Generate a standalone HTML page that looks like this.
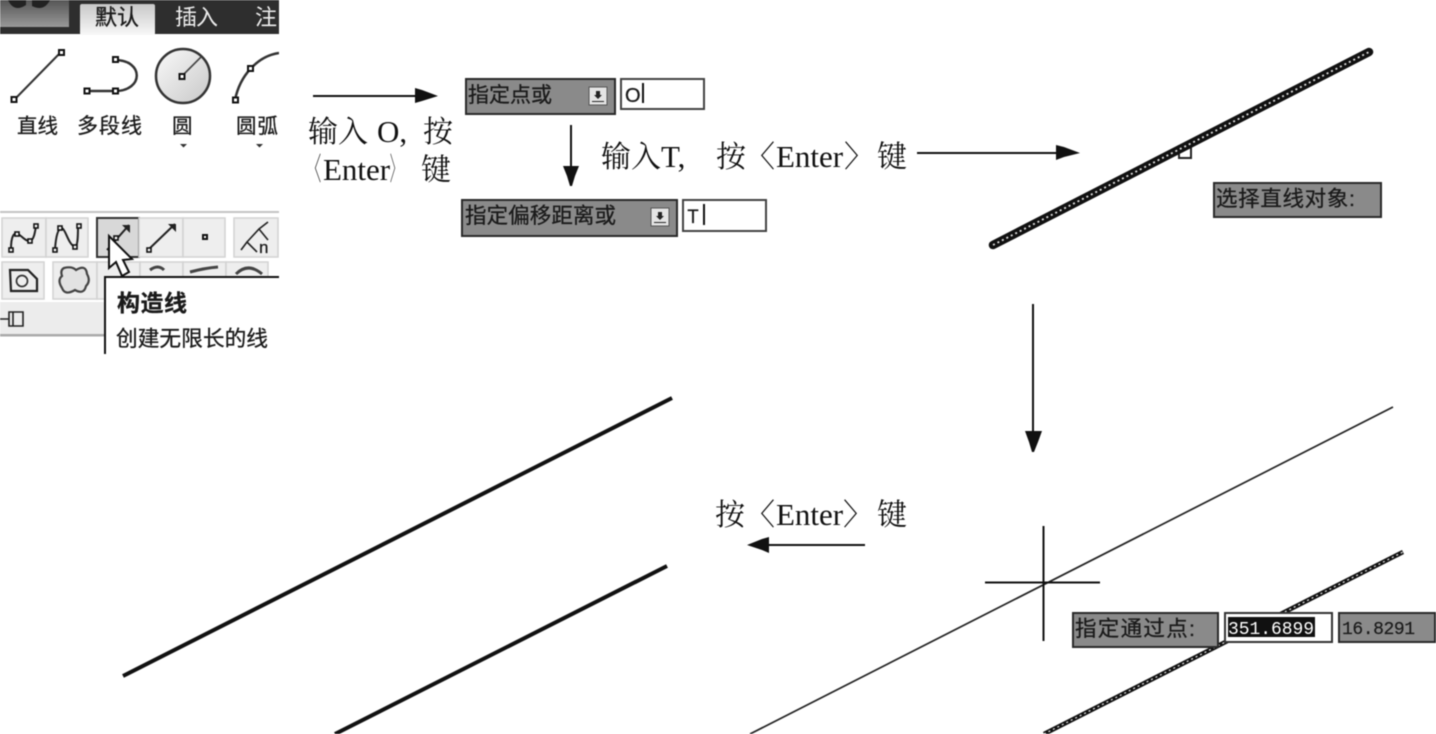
<!DOCTYPE html>
<html><head><meta charset="utf-8"><style>
html,body{margin:0;padding:0;background:#fff;width:1436px;height:734px;overflow:hidden}
svg{display:block;filter:blur(.4px)}
.s{font-family:"Liberation Serif","Noto Serif CJK SC",serif;font-size:30px;fill:#111}
.e{font-family:"Liberation Serif",serif;font-size:31px;fill:#111}
.g{font-family:"Liberation Sans","Noto Sans CJK SC",sans-serif;fill:#1a1a1a;stroke:#1a1a1a;stroke-width:.3}
.m{font-family:"Liberation Mono","Noto Sans CJK SC",monospace;fill:#1a1a1a;stroke:#1a1a1a;stroke-width:.2}
.n{fill:#fff;stroke:#111;stroke-width:2}
.b{fill:#eeeeee;stroke:#d2d2d2;stroke-width:1.5}
.box{fill:#8a8a8a;stroke:#2a2a2a;stroke-width:2}
.inp{fill:#fff;stroke:#444;stroke-width:2}
</style></head><body>
<svg width="1436" height="734" viewBox="0 0 1436 734" xmlns="http://www.w3.org/2000/svg">
<defs>
<linearGradient id="t" x1="0" y1="0" x2="0" y2="1"><stop offset="0" stop-color="#c8c8c8"/><stop offset="1" stop-color="#f8f8f8"/></linearGradient>
<linearGradient id="c" x1="0" y1="0" x2="1" y2="1"><stop offset="0" stop-color="#fafafa"/><stop offset="1" stop-color="#c8c8c8"/></linearGradient>
<linearGradient id="k" x1="0" y1="0" x2="0" y2="1"><stop offset="0" stop-color="#555"/><stop offset="1" stop-color="#999"/></linearGradient>
<clipPath id="clip"><rect x="0" y="0" width="279" height="360"/></clipPath>
</defs>

<!-- Ribbon -->
<g clip-path="url(#clip)">
<rect x="0" y="0" width="279" height="34" fill="#2e2e2e"/>
<rect x="0" y="0" width="69" height="27" fill="url(#k)"/>
<path d="M8 0 Q14 13 26 5 L26 0Z M32 0 L32 6 Q44 12 50 0Z" fill="#222"/>
<rect x="80" y="4" width="75" height="31" rx="2" fill="url(#t)"/>
<text x="95" y="25" class="g" font-size="22" textLength="44">默认</text>
<text x="175" y="25" class="g" font-size="22" style="fill:#eee;stroke:none" textLength="43">插入</text>
<text x="255" y="25" class="g" font-size="22" style="fill:#eee;stroke:none">注</text>

<path d="M14 100 L61 52" stroke="#333" stroke-width="2" fill="none"/>
<rect x="11.500" y="97" width="5" height="5" class="n"/><rect x="59" y="50" width="5" height="5" class="n"/>
<path d="M87 91 H115 C144 91 144 60 115 60" stroke="#333" stroke-width="2.500" fill="none"/>
<rect x="84.500" y="88.500" width="5" height="5" class="n"/><rect x="113" y="88.500" width="5" height="5" class="n"/><rect x="113" y="57" width="5" height="5" class="n"/>
<circle cx="183" cy="76" r="27" fill="url(#c)" stroke="#333" stroke-width="2.500"/>
<path d="M182 76 L201 57" stroke="#444" stroke-width="1.600"/>
<rect x="179.500" y="74" width="5" height="5" class="n"/>
<path d="M235 100 C240 75 258 56 279 53" stroke="#333" stroke-width="2.500" fill="none"/>
<rect x="233" y="97.500" width="5" height="5" class="n"/><rect x="248" y="66" width="5" height="5" class="n"/>
<text x="17" y="133" class="g" font-size="20.500" textLength="41">直线</text>
<text x="77" y="133" class="g" font-size="21" textLength="65">多段线</text>
<text x="172" y="133" class="g" font-size="20.500">圆</text>
<text x="236" y="133" class="g" font-size="20.500" textLength="42">圆弧</text>
<path d="M180 144h7l-3.500 3.500z M256 144h7l-3.500 3.500z" fill="#333"/>

<rect x="0" y="211" width="279" height="2" fill="#c4c4c4"/>
<rect x="2" y="218" width="44" height="39" class="b"/><rect x="46" y="218" width="42" height="39" class="b"/>
<rect x="97" y="218" width="42" height="39" fill="#d8d8d8" stroke="#333" stroke-width="2"/>
<rect x="139" y="218" width="44" height="39" class="b"/><rect x="183" y="218" width="42" height="39" class="b"/><rect x="234" y="218" width="44" height="39" class="b"/>
<path d="M11 249 C11 236 14 232 18 234 C22 236 26 242 30 241 C34 240 35 232 36 226" fill="none" stroke="#222" stroke-width="2"/>
<path d="M55 249 C56 236 58 228 62 228 C66 230 68 244 75 247 C78 246 78 234 78 226" fill="none" stroke="#222" stroke-width="2"/>
<path d="M107 250 L129 225" stroke="#222" stroke-width="2"/>
<path d="M149 249 L175 224" stroke="#222" stroke-width="2"/>
<path d="M168 224h8v8z" fill="#222"/><path d="M122 225h8v8z" fill="#222"/>
<rect x="203" y="235" width="4" height="4" class="n"/>
<path d="M241 250 L247 242 L257 252 M247 242 L259 229 L268 222 M259 229 L268 240" fill="none" stroke="#222" stroke-width="1.600"/>
<text x="259" y="253" class="g" font-size="17">n</text>
<g fill="#fff" stroke="#111" stroke-width="1.600"><rect x="9" y="248" width="4" height="4"/><rect x="15" y="232" width="4" height="4"/><rect x="28" y="239" width="4" height="4"/><rect x="34" y="224" width="4" height="4"/><rect x="53" y="248" width="4" height="4"/><rect x="58" y="226" width="4" height="4"/><rect x="73" y="245" width="4" height="4"/><rect x="77" y="224" width="4" height="4"/><rect x="114" y="236" width="4" height="4"/><rect x="147" y="248" width="4" height="4"/></g>

<rect x="2" y="262" width="42" height="37" class="b"/><rect x="53" y="262" width="44" height="37" class="b"/><rect x="97" y="262" width="43" height="37" class="b"/><rect x="140" y="262" width="43" height="37" class="b"/><rect x="183" y="262" width="43" height="37" class="b"/><rect x="226" y="262" width="42" height="37" class="b"/>
<path d="M10 270 H28 L37 279 V291 H11Z" fill="none" stroke="#222" stroke-width="2.200"/>
<circle cx="22" cy="281" r="5.500" fill="none" stroke="#333" stroke-width="1.700"/>
<path d="M64 268 Q72 266 76 270 Q86 264 87 274 Q91 281 86 286 Q84 295 75 290 Q65 296 62 288 Q57 280 62 276 Q60 270 64 268Z" fill="#e2e2e2" stroke="#444" stroke-width="2.200"/>
<path d="M150 270 Q158 264 164 270 M190 272 Q205 268 218 267 M236 274 Q248 262 262 274" fill="none" stroke="#444" stroke-width="3"/>
<rect x="0" y="302" width="279" height="33" fill="#ececec"/>
<rect x="0" y="334" width="279" height="2.500" fill="#aaa"/>
<path d="M0 319 H9 M9 312 H23 V326 H9Z M13 312 V326" fill="none" stroke="#222" stroke-width="1.600"/>

<rect x="104" y="276" width="175" height="84" fill="#fff"/>
<path d="M279 277 H105 V354" fill="none" stroke="#111" stroke-width="2"/>
<text x="117" y="311" class="g" font-size="23" font-weight="700" textLength="70">构造线</text>
<text x="116" y="346" class="g" font-size="21.700" textLength="152">创建无限长的线</text>
<path d="M109 236 L109 268 L116 262 L122 276 L129 272 L123 260 L132 259Z" fill="#fff" stroke="#111" stroke-width="2"/>
</g>

<!-- Left/top arrow + labels -->
<path d="M313 96 H420" stroke="#111" stroke-width="2"/>
<path d="M415 88 L422 90 L438 96 L422 101 L415 103Z" fill="#111"/>
<text x="308" y="142" class="s">输入</text>
<text x="377" y="142" class="e">O,</text>
<text x="423" y="142" class="s">按</text>
<text x="308" y="180" class="e" textLength="13" lengthAdjust="spacingAndGlyphs" style="font-family:'Liberation Serif','Noto Serif CJK SC',serif">〈</text>
<text x="323" y="180" class="e">Enter</text>
<text x="390" y="180" class="e" textLength="11" lengthAdjust="spacingAndGlyphs" style="font-family:'Liberation Serif','Noto Serif CJK SC',serif">〉</text>
<text x="421" y="180" class="s">键</text>

<rect x="466" y="79" width="149" height="35" class="box"/>
<text x="468" y="102" class="g" font-size="21" textLength="84">指定点或</text>
<rect x="589" y="87" width="18" height="18" fill="#e4e4e4" stroke="#555"/>
<path d="M594 95h8l-4 4zM596 91h4v4h-4zM592 101h12v1h-12z" fill="#222"/>
<rect x="621" y="79" width="83" height="30" class="inp"/>
<text x="625" y="102" class="g" font-size="20">O</text>
<rect x="642" y="83" width="2" height="20" fill="#111"/>

<path d="M571 125 V175" stroke="#111" stroke-width="2"/>
<path d="M563 166 H579 L575 176 L572 186 H570 L567 176Z" fill="#111"/>
<text x="601" y="167" class="s">输入</text>
<text x="661" y="167" class="e">T,</text>
<text x="716" y="167" class="s">按</text>
<text x="745" y="167" class="s">〈</text>
<text x="776" y="167" class="e">Enter</text>
<text x="844" y="167" class="s">〉</text>
<text x="877" y="167" class="s">键</text>
<path d="M917 153 H1060" stroke="#111" stroke-width="2"/>
<path d="M1056 145 L1064 147 L1080 153 L1064 157 L1056 160Z" fill="#111"/>

<rect x="462" y="200" width="215" height="36" class="box"/>
<text x="465" y="223" class="g" font-size="21.500" textLength="151">指定偏移距离或</text>
<rect x="651" y="208" width="18" height="18" fill="#e4e4e4" stroke="#555"/>
<path d="M656 216h8l-4 4zM658 212h4v4h-4zM654 222h12v1h-12z" fill="#222"/>
<rect x="683" y="200" width="83" height="31" class="inp"/>
<text x="687" y="223" class="m" font-size="20">T</text>
<rect x="703" y="204" width="2" height="21" fill="#111"/>

<!-- Selected line -->
<rect x="1179" y="146" width="12" height="12" fill="#fff" stroke="#222" stroke-width="2"/>
<path d="M993 245 L1369 52" stroke="#111" stroke-width="8.500" stroke-linecap="round"/>
<path d="M993 245 L1369 52" stroke="#e0e0e0" stroke-width="1.800" stroke-dasharray="2 3"/>
<rect x="1214" y="183" width="167" height="34" class="box"/>
<text x="1216" y="206" class="g" font-size="21.500" textLength="139">选择直线对象:</text>

<path d="M1033 304 V440" stroke="#111" stroke-width="2"/>
<path d="M1025 431 H1042 L1038 442 L1034 452 H1032 L1029 442Z" fill="#111"/>

<!-- Construction line stage -->
<path d="M750 734 L1393 407" stroke="#222" stroke-width="1.700"/>
<path d="M1044 734 L1403 552" stroke="#111" stroke-width="4.500"/>
<path d="M1044 734 L1403 552" stroke="#ddd" stroke-width="1.300" stroke-dasharray="2 3"/>
<path d="M985 582.500 H1100 M1043.500 526 V641" stroke="#111" stroke-width="2"/>
<rect x="1073" y="613" width="145" height="34" class="box"/>
<text x="1075" y="636" class="g" font-size="21.500" textLength="120">指定通过点:</text>
<rect x="1225" y="613" width="107" height="29" fill="#fff" stroke="#333" stroke-width="2"/>
<rect x="1228" y="617" width="87" height="20" fill="#111"/>
<text x="1228" y="634" class="m" font-size="18" style="fill:#fff;stroke:none" textLength="86">351.6899</text>
<rect x="1339" y="613" width="96" height="29" class="box"/>
<text x="1342" y="634" class="m" font-size="18" textLength="73">16.8291</text>

<!-- Result -->
<path d="M123 676 L672 398" stroke="#111" stroke-width="4"/>
<path d="M335 734 L667 566" stroke="#111" stroke-width="4"/>
<text x="715" y="525" class="s">按</text>
<text x="745" y="525" class="s">〈</text>
<text x="776" y="525" class="e">Enter</text>
<text x="843" y="525" class="s">〉</text>
<text x="877" y="525" class="s">键</text>
<path d="M865 545 H765" stroke="#111" stroke-width="2"/>
<path d="M769 537 L762 539 L747 545 L762 550 L769 553Z" fill="#111"/>
</svg>
</body></html>
